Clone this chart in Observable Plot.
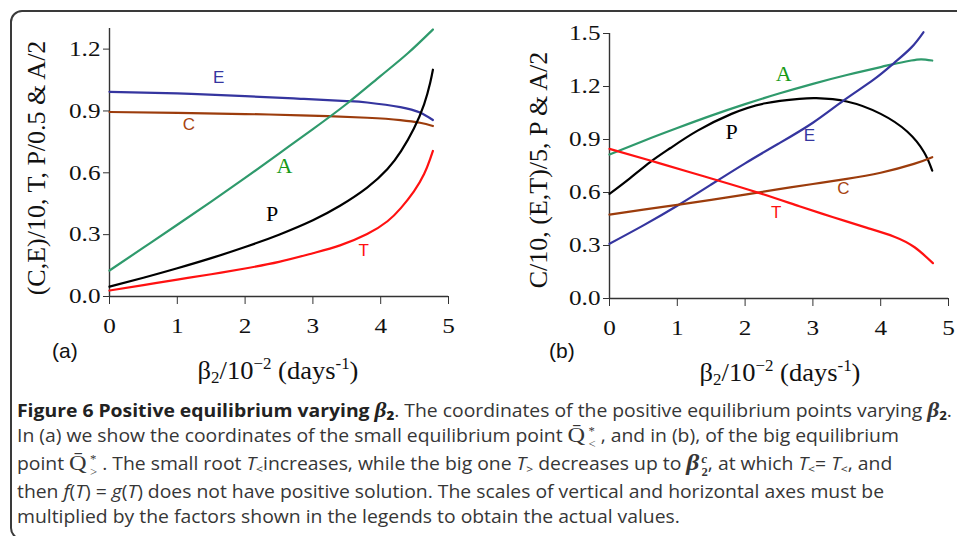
<!DOCTYPE html>
<html>
<head>
<meta charset="utf-8">
<script src="https://cdn.jsdelivr.net/npm/d3@7"></script>
<script src="https://cdn.jsdelivr.net/npm/@observablehq/plot@0.6"></script>
<style>
  html, body { margin: 0; padding: 0; background: #fff; }
  body { width: 957px; height: 536px; position: relative; overflow: hidden; }
  .frame { position: absolute; left: 10px; top: 10px; width: 980px; height: 530px;
           border: 2px solid #3a3a3a; border-radius: 12px; box-sizing: border-box; }
  .plot { position: absolute; top: 0; }
  .ylab { position: absolute; font-family: "Liberation Serif", serif; font-size: 26px; color: #111;
          white-space: nowrap; transform: translate(-50%, -50%) rotate(-90deg); }
  .xlab { position: absolute; font-family: "Liberation Serif", serif; font-size: 25px; color: #111;
          white-space: nowrap; transform: translateX(-50%) scaleX(1.06); }
  .xlab sub { font-size: 16px; vertical-align: -4px; line-height: 0; }
  .xlab sup { font-size: 16px; vertical-align: 10px; line-height: 0; }
  .panel { position: absolute; font-family: "Liberation Sans", Arial, sans-serif; font-size: 21px; color: #111; }
  .cap { position: absolute; left: 17px; top: 398px; font-family: "Open Sans", sans-serif; font-size: 17.5px;
         color: #363636; line-height: 25px; white-space: nowrap; transform: scaleX(1.105); transform-origin: 0 0; }
  .cap b { color: #222; }
  .m { font-family: "Liberation Serif", serif; font-size: 22px; line-height: 0; margin-right: 1px; }
  .bb { font-family: "Liberation Serif", serif; font-weight: bold; font-style: italic; font-size: 21px; line-height: 0; }
  .ss { display: inline-block; vertical-align: -6px; line-height: 13px; font-size: 11.5px;
        font-family: "Liberation Serif", serif; margin-left: 2px; height: 26px; }
  .ss > span, .ss > i { display: block; height: 13px; }
  .sub { font-size: 11px; vertical-align: -3px; line-height: 0; }
</style>
</head>
<body>
<div class="frame"></div>
<div id="pa" class="plot" style="left:0px"></div>
<div id="pb" class="plot" style="left:480px"></div>

<div class="ylab" style="left:37px; top:168px">(C,E)/10, T, P/0.5 &amp; A/2</div>
<div class="ylab" style="left:539px; top:170px">C/10, (E,T)/5, P &amp; A/2</div>
<div class="xlab" style="left:278px; top:357px">&beta;<sub>2</sub>/10<sup>&minus;2</sup> (days<sup>-1</sup>)</div>
<div class="xlab" style="left:780px; top:359px">&beta;<sub>2</sub>/10<sup>&minus;2</sup> (days<sup>-1</sup>)</div>
<div class="panel" style="left:52px; top:339px">(a)</div>
<div class="panel" style="left:549px; top:339px">(b)</div>

<div class="cap">
<b>Figure 6 Positive equilibrium varying <span class="bb">&beta;</span><b style="font-size:12px;vertical-align:-3px;line-height:0">2</b></b>. The coordinates of the positive equilibrium points varying <span class="bb">&beta;</span><b style="font-size:12px;vertical-align:-3px;line-height:0">2</b>.<br>
In (a) we show the coordinates of the small equilibrium point <span class="m">Q&#772;</span><span class="ss"><span>*</span><span>&lt;</span></span> , and in (b), of the big equilibrium<br>
point <span class="m">Q&#772;</span><span class="ss"><span>*</span><span>&gt;</span></span> . The small root <i>T</i><span class="sub">&lt;</span>increases, while the big one <i>T</i><span class="sub">&gt;</span> decreases up to <span class="bb" style="font-size:23px">&beta;</span><span class="ss" style="font-weight:bold"><i>c</i><span>2</span></span>, at which <i>T</i><span class="sub">&lt;</span>= <i>T</i><span class="sub">&lt;</span>, and<br>
then <i>f</i>(<i>T</i>) = <i>g</i>(<i>T</i>) does not have positive solution. The scales of vertical and horizontal axes must be<br>
multiplied by the factors shown in the legends to obtain the actual values.
</div>

<script>
// ---------- Panel (a): small equilibrium point ----------
const aE = [[0,0.993],[1,0.985],[2,0.972],[2.82,0.959],[3.5,0.948],[3.8,0.941],[4.29,0.919],[4.58,0.892],[4.77,0.856]];
const aC = [[0,0.895],[1,0.891],[2,0.885],[2.82,0.879],[3.8,0.867],[4.29,0.856],[4.58,0.843],[4.77,0.827]];
const aA = [[0,0.126],[0.5,0.237],[1,0.348],[1.5,0.46],[2,0.575],[2.5,0.693],[3,0.812],[3.5,0.935],[4,1.07],[4.4,1.18],[4.77,1.295]];
const aP = [[0,0.048],[0.5,0.091],[1,0.137],[1.5,0.186],[2,0.24],[2.5,0.3],[3,0.37],[3.4,0.44],[3.8,0.528],[4.1,0.618],[4.3,0.705],[4.49,0.815],[4.64,0.932],[4.73,1.037],[4.77,1.10]];
const aT = [[0,0.029],[0.5,0.055],[1,0.082],[1.5,0.108],[2,0.136],[2.5,0.168],[3,0.21],[3.4,0.248],[3.8,0.303],[4.1,0.365],[4.3,0.43],[4.49,0.51],[4.64,0.594],[4.73,0.668],[4.77,0.706]];

// ---------- Panel (b): big equilibrium point ----------
const bA = [[0,0.815],[0.5,0.892],[1,0.965],[1.5,1.035],[2,1.1],[2.5,1.16],[3,1.215],[3.5,1.265],[4,1.31],[4.2,1.328],[4.45,1.347],[4.6,1.354],[4.76,1.347]];
const bP = [[0,0.592],[0.3,0.68],[0.6,0.772],[0.9,0.852],[1.3,0.95],[1.8,1.045],[2.3,1.105],[2.8,1.13],[3.05,1.134],[3.5,1.115],[4.0,1.045],[4.39,0.945],[4.64,0.828],[4.76,0.724]];
const bE = [[0,0.31],[0.5,0.414],[1,0.525],[1.5,0.645],[2,0.765],[2.5,0.878],[3,0.995],[3.45,1.12],[3.9,1.24],[4.2,1.334],[4.45,1.42],[4.63,1.507]];
const bC = [[0,0.475],[0.5,0.503],[1,0.53],[1.5,0.558],[2,0.588],[2.5,0.619],[3,0.648],[3.5,0.677],[4,0.712],[4.49,0.762],[4.76,0.80]];
const bT = [[0,0.847],[0.6,0.781],[1.2,0.713],[1.6,0.668],[2.2,0.598],[2.8,0.522],[3.3,0.46],[3.8,0.4],[4.2,0.35],[4.5,0.29],[4.77,0.2]];

// tick labels
const xTicks = [0,1,2,3,4,5];
const yTicksA = [0,0.3,0.6,0.9,1.2];
const yTicksB = [0,0.3,0.6,0.9,1.2,1.5];

// curve labels: [name, beta, value, serif?]
const labelsA = [["E",1.61,1.06,false],["C",1.17,0.832,false],["A",2.58,0.634,true],["P",2.40,0.40,true],["T",3.75,0.223,false]];
const labelsB = [["A",2.57,1.273,true],["P",1.80,0.945,true],["E",2.95,0.922,false],["C",3.45,0.622,false],["T",2.46,0.487,false]];

const lineColor = {E:"#35359f", C:"#9c3c0c", A:"#2f9a6c", P:"#000000", T:"#ff1111"};
const textColor = {E:"#35359f", C:"#a8440f", A:"#169a16", P:"#000000", T:"#ff1111"};

function panel(series, labels, yDomain, yTicks, opts) {
  const lines = Object.entries(series).map(([k, pts]) =>
    Plot.line(pts, {x: d => d[0], y: d => d[1], stroke: lineColor[k], strokeWidth: 2.2, curve: "natural"}));
  const txt = labels.map(([k, x, y, serif]) =>
    Plot.text([[x, y]], {x: d => d[0], y: d => d[1], text: () => k, fill: textColor[k],
      fontFamily: serif ? "Liberation Serif" : "Liberation Sans", fontSize: serif ? 22 : 17}));
  const svg = Plot.plot({
    width: opts.width, height: 340,
    marginLeft: opts.ml, marginRight: opts.mr, marginTop: opts.mt, marginBottom: 340 - opts.y0,
    style: {fontFamily: "Liberation Serif", fontSize: "21px", color: "#111", background: "transparent", overflow: "visible"},
    x: {domain: [0, 5]},
    y: {domain: yDomain},
    marks: [
      Plot.axisX({ticks: xTicks, tickSize: 8, tickPadding: 14, label: null, tickFormat: d3.format("d"), stroke: "#333"}),
      Plot.axisY({ticks: yTicks, tickSize: 6, tickPadding: 3, label: null, tickFormat: d3.format(".1f"), stroke: "#333"}),
      Plot.ruleX([0], {stroke: "#333", strokeWidth: 1.4}),
      Plot.ruleY([0], {stroke: "#333", strokeWidth: 1.4}),
      ...lines,
      ...txt
    ]
  });
  // widen tick label glyphs to match the reference's broad serif digits
  d3.select(svg).selectAll('g[aria-label="x-axis tick label"] text, g[aria-label="y-axis tick label"] text')
    .attr("transform", function () { return (this.getAttribute("transform") || "") + " scale(1.2,1)"; });
  return svg;
}

document.getElementById("pa").append(
  panel({E: aE, C: aC, A: aA, P: aP, T: aT}, labelsA, [0, 1.3], yTicksA, {width: 470, ml: 109, mr: 22, mt: 28, y0: 296}));
document.getElementById("pb").append(
  panel({A: bA, P: bP, E: bE, C: bC, T: bT}, labelsB, [0, 1.5], yTicksB, {width: 477, ml: 129, mr: 9, mt: 33, y0: 298}));
</script>
</body>
</html>
